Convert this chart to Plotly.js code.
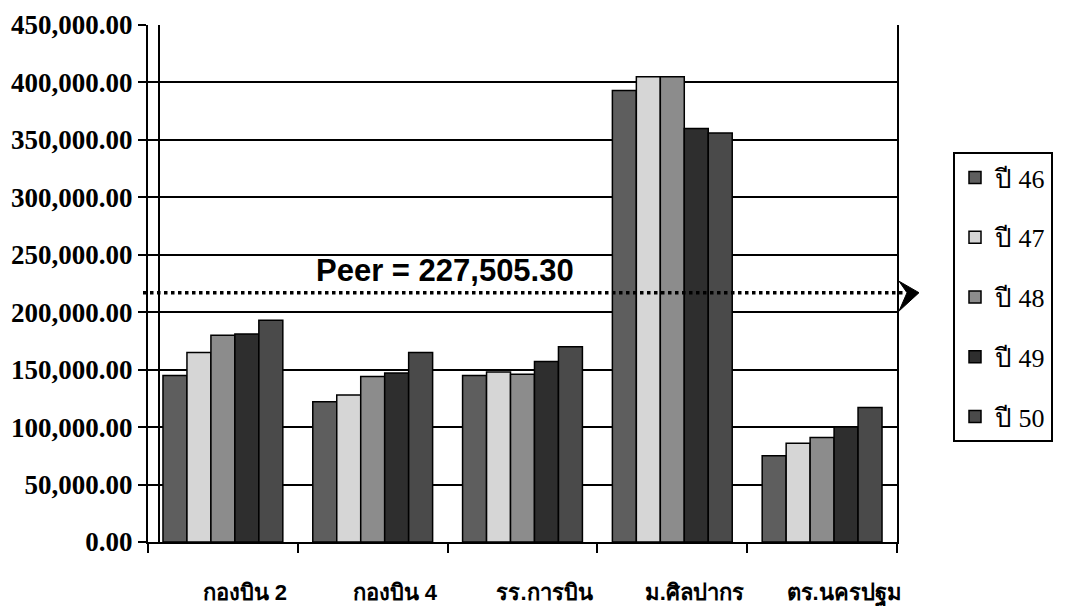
<!DOCTYPE html>
<html>
<head>
<meta charset="utf-8">
<script src="https://cdn.plot.ly/plotly-3.0.1.min.js"></script>
<style>
  html, body { margin: 0; padding: 0; background: #ffffff; }
  #chart { width: 1065px; height: 606px; }
</style>
</head>
<body>
<div id="chart"></div>
<script>
// Categories (x axis)
const categories = ["กองบิน 2", "กองบิน 4", "รร.การบิน", "ม.ศิลปากร", "ตร.นครปฐม"];

// Series names (legend)
const seriesNames = ["ปี 46", "ปี 47", "ปี 48", "ปี 49", "ปี 50"];

// Series values
const y46 = [145000, 122000, 145000, 393000, 75000];
const y47 = [165000, 128000, 148000, 405000, 86000];
const y48 = [180000, 144000, 146000, 405000, 91000];
const y49 = [181000, 147000, 157000, 360000, 100000];
const y50 = [193000, 165000, 170000, 356000, 117000];

// Peer reference line: label and drawn level (as placed in the picture)
const peerLabel = "Peer = 227,505.30";
const peerLevel = 217000;

// Y tick values
const yTicks = [0, 50000, 100000, 150000, 200000, 250000, 300000, 350000, 400000, 450000];

const seriesValues = [y46, y47, y48, y49, y50];
const seriesColors = ["#5e5e5e", "#d6d6d6", "#8c8c8c", "#2e2e2e", "#4a4a4a"];

const traces = seriesValues.map((vals, i) => ({
  type: "bar",
  name: seriesNames[i],
  x: categories,
  y: vals,
  legendgroup: "g" + i,
  marker: { color: seriesColors[i], line: { color: "#000000", width: 1.5 } },
  hoverinfo: "x+y+name"
}));

const L = 148, R = 897, T = 25, B = 542;
const pw = R - L, ph = B - T;

const layout = {
  width: 1065,
  height: 606,
  paper_bgcolor: "#ffffff",
  plot_bgcolor: "#ffffff",
  margin: { l: L, r: 1065 - R, t: T, b: 606 - B, pad: 0 },
  barmode: "group",
  bargap: 0.2,
  bargroupgap: 0,
  showlegend: true,
  legend: {
    x: (953 - L) / pw,
    xanchor: "left",
    y: (B - 152) / ph,
    yanchor: "top",
    bordercolor: "#000000",
    borderwidth: 2,
    bgcolor: "#ffffff",
    traceorder: "grouped",
    tracegroupgap: 23,
    itemwidth: 30,
    font: { family: "Liberation Serif, Times New Roman, serif", size: 26, color: "#000000" }
  },
  xaxis: {
    type: "category",
    showline: true,
    linecolor: "#000000",
    linewidth: 2,
    mirror: false,
    ticks: "outside",
    tickson: "boundaries",
    ticklen: 9,
    tickwidth: 2,
    tickcolor: "#000000",
    showgrid: false,
    ticklabelshift: 22,
    ticklabelstandoff: 30,
    tickfont: { family: "Liberation Sans Narrow, Liberation Sans, Arial, sans-serif", size: 22, color: "#000000", weight: "bold" },
    fixedrange: true
  },
  yaxis: {
    range: [0, 450000],
    tickvals: yTicks,
    tickformat: ",.2f",
    showline: true,
    linecolor: "#000000",
    linewidth: 2,
    mirror: true,
    ticks: "outside",
    ticklen: 8,
    tickwidth: 2,
    tickcolor: "#000000",
    showgrid: true,
    gridcolor: "#000000",
    gridwidth: 2,
    zeroline: false,
    tickfont: { family: "Liberation Serif, Times New Roman, serif", size: 27, color: "#000000", weight: "bold" },
    fixedrange: true
  },
  shapes: [
    // back wall edge (3D look)
    { type: "line", xref: "paper", yref: "paper", x0: 11 / pw, x1: 11 / pw, y0: 0, y1: 1,
      line: { color: "#000000", width: 2 }, layer: "below" },
    // peer dotted line
    { type: "line", xref: "paper", yref: "y", x0: -5 / pw, x1: 1 + 8 / pw, y0: peerLevel, y1: peerLevel,
      line: { color: "#000000", width: 3.5, dash: "dot" }, layer: "above" },
    // arrow head
    { type: "path", xref: "paper", yref: "y", layer: "above",
      path: "M " + (1 + 2 / pw) + " " + (peerLevel + 10000) +
            " L " + (1 + 22 / pw) + " " + peerLevel +
            " L " + (1 + 2 / pw) + " " + (peerLevel - 16000) +
            " L " + (1 + 10 / pw) + " " + peerLevel + " Z",
      fillcolor: "#000000", line: { color: "#000000", width: 1 } }
  ],
  annotations: [
    { xref: "paper", yref: "y", x: (445 - L) / pw, y: peerLevel, yshift: 22,
      text: peerLabel, showarrow: false, xanchor: "center", yanchor: "middle",
      font: { family: "Liberation Sans, Arial, sans-serif", size: 31, color: "#000000", weight: "bold" } }
  ]
};

Plotly.newPlot("chart", traces, layout, { displayModeBar: false, responsive: false });
</script>
</body>
</html>
